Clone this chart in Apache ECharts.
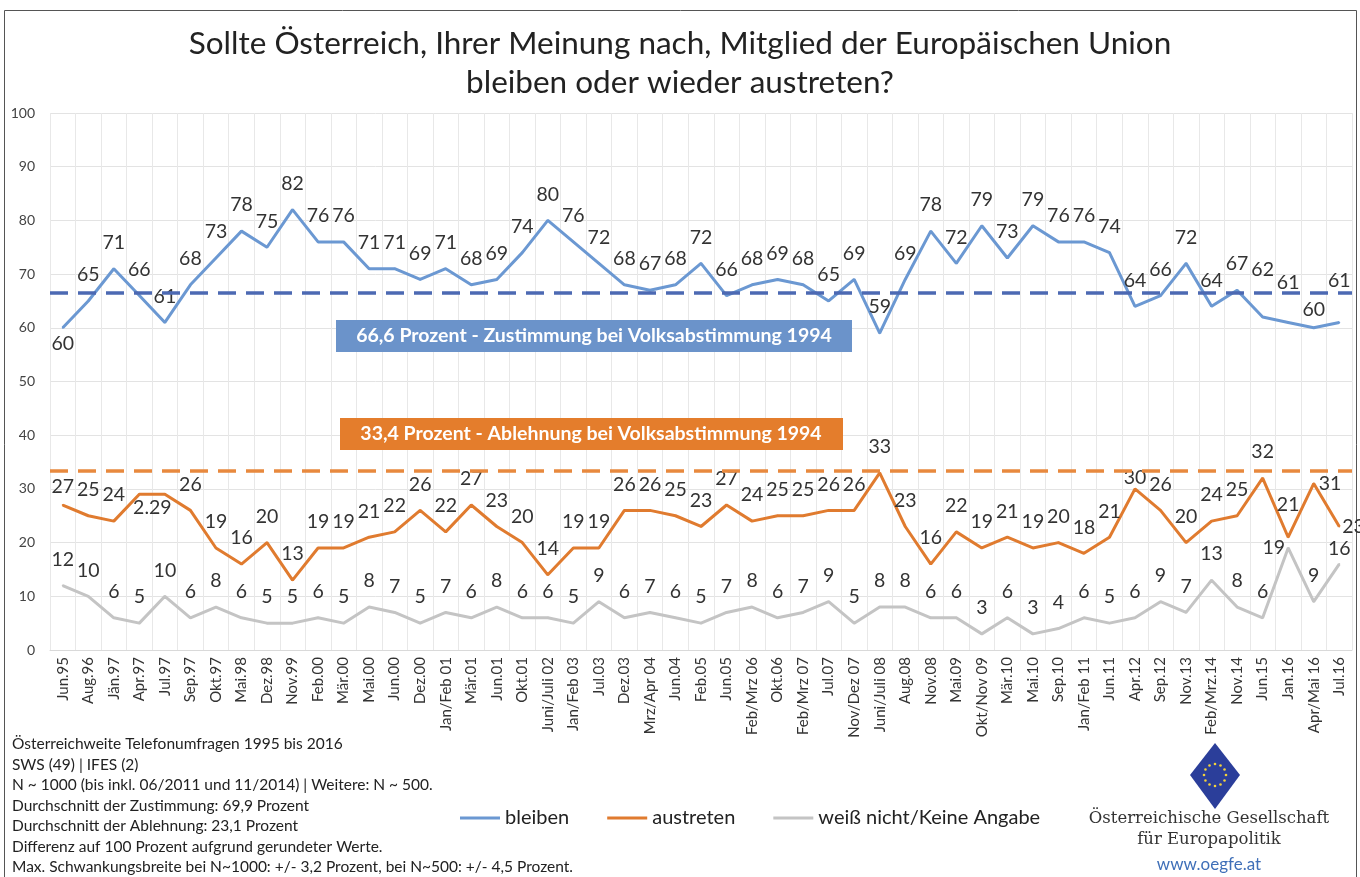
<!DOCTYPE html>
<html>
<head>
<meta charset="utf-8">
<script src="https://cdn.jsdelivr.net/npm/echarts@6/dist/echarts.min.js"></script>
<style>
  html, body { margin: 0; padding: 0; background: #fff; }
  #chart { width: 1360px; height: 877px; }
</style>
</head>
<body>
<div id="chart"></div>
<script>
// Umfragezeitpunkte
var categories = ['Jun.95', 'Aug.96', 'Jän.97', 'Apr.97', 'Jul.97', 'Sep.97', 'Okt.97', 'Mai.98', 'Dez.98', 'Nov.99',
  'Feb.00', 'Mär.00', 'Mai.00', 'Jun.00', 'Dez.00', 'Jan/Feb 01', 'Mär.01', 'Jun.01', 'Okt.01', 'Juni/Juli 02',
  'Jan/Feb 03', 'Jul.03', 'Dez.03', 'Mrz/Apr 04', 'Jun.04', 'Feb.05', 'Jun.05', 'Feb/Mrz 06', 'Okt.06', 'Feb/Mrz 07',
  'Jul.07', 'Nov/Dez 07', 'Juni/Juli 08', 'Aug.08', 'Nov.08', 'Mai.09', 'Okt/Nov 09', 'Mär.10', 'Mai.10', 'Sep.10',
  'Jan/Feb 11', 'Jun.11', 'Apr.12', 'Sep.12', 'Nov.13', 'Feb/Mrz.14', 'Nov.14', 'Jun.15', 'Jan.16', 'Apr/Mai 16', 'Jul.16'];

var bleiben = [60, 65, 71, 66, 61, 68, 73, 78, 75, 82, 76, 76, 71, 71, 69, 71, 68, 69, 74, 80,
  76, 72, 68, 67, 68, 72, 66, 68, 69, 68, 65, 69, 59, 69, 78, 72, 79, 73, 79, 76,
  76, 74, 64, 66, 72, 64, 67, 62, 61, 60, 61];

var austreten = [27, 25, 24, 29, 29, 26, 19, 16, 20, 13, 19, 19, 21, 22, 26, 22, 27, 23, 20, 14,
  19, 19, 26, 26, 25, 23, 27, 24, 25, 25, 26, 26, 33, 23, 16, 22, 19, 21, 19, 20,
  18, 21, 30, 26, 20, 24, 25, 32, 21, 31, 23];

var weissNicht = [12, 10, 6, 5, 10, 6, 8, 6, 5, 5, 6, 5, 8, 7, 5, 7, 6, 8, 6, 6,
  5, 9, 6, 7, 6, 5, 7, 8, 6, 7, 9, 5, 8, 8, 6, 6, 3, 6, 3, 4,
  6, 5, 6, 9, 7, 13, 8, 6, 19, 9, 16];

// Referenzwerte Volksabstimmung 1994
var zustimmung1994 = 66.6;
var ablehnung1994 = 33.4;

var yTicks = [0, 10, 20, 30, 40, 50, 60, 70, 80, 90, 100];

var FONT = 'Lato';

// einzelne Beschriftungen wie im Original verschoben
var bleibenLabels = {
  0: { position: 'bottom', distance: 5 },
  47: { distance: 36 },
  48: { distance: 29 },
  49: { distance: 7 },
  50: { distance: 31 }
};
var austretenLabels = {
  0: { distance: 7 },
  3: { position: [14, 14], align: 'center', verticalAlign: 'middle', formatter: '2.29' },
  4: { show: false },
  42: { distance: 0 },
  48: { distance: 22 },
  49: { position: 'right', distance: 4, offset: [0, -4] },
  50: { position: 'right', distance: 2 }
};
var weissLabels = {
  48: { position: 'left', distance: 2 },
  49: { offset: [7, 0] },
  50: { position: 'top', distance: 4, offset: [4, 0] }
};

function withLabels(values, overrides) {
  return values.map(function (v, i) {
    return overrides[i] ? { value: v, label: overrides[i] } : v;
  });
}

var myChart = echarts.init(document.getElementById('chart'));

var labelStyle = {
  show: true,
  position: 'top',
  distance: 15,
  color: '#333',
  fontSize: 19.5,
  fontFamily: FONT
};

function dots(cx, cy, r) {
  var out = [];
  for (var k = 0; k < 12; k++) {
    var a = k * Math.PI / 6;
    out.push({
      type: 'circle',
      shape: { cx: cx + r * Math.cos(a), cy: cy + r * Math.sin(a), r: 1.3 },
      style: { fill: '#f4d23a' }
    });
  }
  return out;
}

function lineSeries(name, values, overrides, color, z) {
  return {
    name: name,
    type: 'line',
    data: withLabels(values, overrides),
    symbol: 'circle',
    symbolSize: 2,
    showSymbol: true,
    color: color,
    itemStyle: { color: color },
    lineStyle: { width: 3, color: color },
    label: labelStyle,
    labelLayout: { hideOverlap: false },
    z: z
  };
}

var sBleiben = lineSeries('bleiben', bleiben, bleibenLabels, '#6b98d2', 3);
sBleiben.markLine = {
  silent: true,
  symbol: 'none',
  label: { show: false },
  lineStyle: { color: '#4c69b3', width: 3.5, type: [18, 10] },
  data: [{ yAxis: zustimmung1994 }]
};
var sAustreten = lineSeries('austreten', austreten, austretenLabels, '#e07b2f', 3);
sAustreten.markLine = {
  silent: true,
  symbol: 'none',
  label: { show: false },
  lineStyle: { color: '#e8893e', width: 3.5, type: [18, 10] },
  data: [{ yAxis: ablehnung1994 }]
};
var sWeiss = lineSeries('weiß nicht/Keine Angabe', weissNicht, weissLabels, '#c4c4c4', 2);

var option = {
  backgroundColor: '#fff',
  animation: false,
  textStyle: { fontFamily: FONT },
  title: {
    text: 'Sollte Österreich, Ihrer Meinung nach, Mitglied der Europäischen Union\nbleiben oder wieder austreten?',
    left: 'center',
    top: 19,
    textStyle: { fontSize: 31.5, fontWeight: 'normal', color: '#222', lineHeight: 39, fontFamily: FONT }
  },
  grid: { left: 50, right: 8, top: 113, bottom: 227, containLabel: false },
  legend: {
    left: 455,
    top: 803,
    icon: 'rect',
    itemWidth: 40,
    itemHeight: 3,
    itemGap: 38,
    textStyle: { fontSize: 20, color: '#222', fontFamily: FONT },
    data: ['bleiben', 'austreten', 'weiß nicht/Keine Angabe']
  },
  xAxis: {
    type: 'category',
    data: categories,
    boundaryGap: true,
    axisLine: { lineStyle: { color: '#d9d9d9' } },
    axisTick: { show: false },
    axisLabel: { interval: 0, rotate: 90, margin: 7, fontSize: 15, color: '#333', fontFamily: FONT },
    splitLine: { show: true, interval: 0, lineStyle: { color: '#e8e8e8', width: 1 } }
  },
  yAxis: {
    type: 'value',
    min: yTicks[0],
    max: yTicks[yTicks.length - 1],
    interval: 10,
    axisLine: { show: false },
    axisTick: { show: false },
    axisLabel: { margin: 15, fontSize: 14, color: '#444', fontFamily: FONT },
    splitLine: { lineStyle: { color: '#e3e3e3' } }
  },
  series: [sBleiben, sAustreten, sWeiss],
  graphic: [
    // Rahmen
    {
      type: 'rect',
      shape: { x: 4.5, y: 10.5, width: 1352, height: 875 },
      style: { fill: null, stroke: '#555', lineWidth: 1 },
      silent: true
    },
    // Beschriftungsboxen
    {
      type: 'group',
      x: 336,
      y: 320,
      z: 10,
      children: [
        { type: 'rect', z: 10, shape: { x: 0, y: 0, width: 516, height: 32 }, style: { fill: '#6b93ca' } },
        {
          type: 'text', z: 11, x: 258, y: 16,
          style: { text: '66,6 Prozent - Zustimmung bei Volksabstimmung 1994', fill: '#fff', font: 'bold 19.5px Lato', align: 'center', verticalAlign: 'middle' }
        }
      ]
    },
    {
      type: 'group',
      x: 340,
      y: 418,
      z: 10,
      children: [
        { type: 'rect', z: 10, shape: { x: 0, y: 0, width: 503, height: 32 }, style: { fill: '#e47d2c' } },
        {
          type: 'text', z: 11, x: 251, y: 16,
          style: { text: '33,4 Prozent - Ablehnung bei Volksabstimmung 1994', fill: '#fff', font: 'bold 19.5px Lato', align: 'center', verticalAlign: 'middle' }
        }
      ]
    },
    // Fußnoten
    {
      type: 'text',
      x: 12,
      y: 734,
      style: {
        text: 'Österreichweite Telefonumfragen 1995 bis 2016\nSWS (49) | IFES (2)\nN ~ 1000 (bis inkl. 06/2011 und 11/2014) | Weitere: N ~ 500.\nDurchschnitt der Zustimmung: 69,9 Prozent\nDurchschnitt der Ablehnung: 23,1 Prozent\nDifferenz auf 100 Prozent aufgrund gerundeter Werte.\nMax. Schwankungsbreite bei N~1000: +/- 3,2 Prozent, bei N~500: +/- 4,5 Prozent.',
        font: '15.5px Lato',
        fill: '#222',
        lineHeight: 20.5
      }
    },
    // Logo
    {
      type: 'group',
      x: 1083,
      y: 743,
      children: [
        {
          type: 'polygon',
          shape: { points: [[132, 0], [157, 32], [132, 66], [107, 32]] },
          style: { fill: '#2b3e9a' }
        },
        { type: 'group', children: dots(132, 32, 11) },
        {
          type: 'text', x: 126, y: 67,
          style: { text: 'Österreichische Gesellschaft', font: '16.5px "DejaVu Serif"', fill: '#333', align: 'center' }
        },
        {
          type: 'text', x: 126, y: 88,
          style: { text: 'für Europapolitik', font: '16.5px "DejaVu Serif"', fill: '#333', align: 'center' }
        },
        {
          type: 'text', x: 126, y: 113,
          style: { text: 'www.oegfe.at', font: '17px Lato', fill: '#3f6fb8', align: 'center' }
        }
      ]
    }
  ]
};

myChart.setOption(option);
</script>
</body>
</html>
